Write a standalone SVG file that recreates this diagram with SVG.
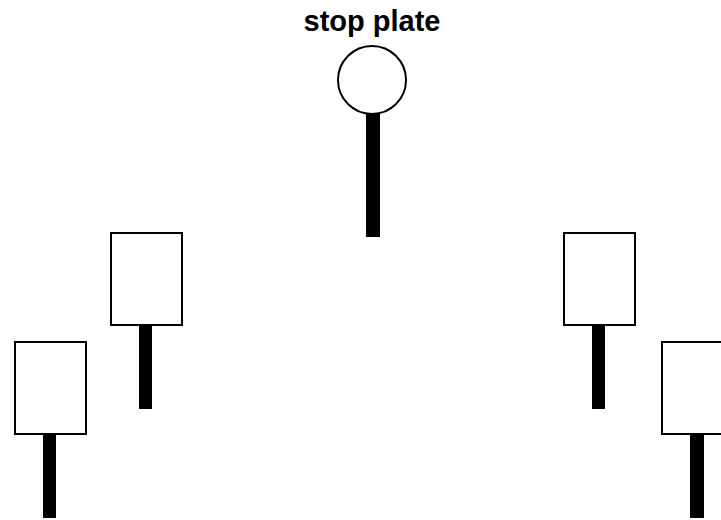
<svg xmlns="http://www.w3.org/2000/svg" width="721" height="520" viewBox="0 0 721 520">
<style>
.plate{fill:#fff;stroke:#000;stroke-width:2}
.stem{fill:#000}
.lbl{font-family:"Liberation Sans",Arial,sans-serif;font-weight:bold;font-size:29px;fill:#000;text-anchor:middle}
</style>
<rect width="721" height="520" fill="#fff"/>
<g id="stop-plate">
<text class="lbl" x="372" y="31">stop plate</text>
<rect class="stem" x="366" y="112" width="14" height="125"/>
<circle class="plate" cx="372" cy="80" r="34"/>
</g>
<g id="sign-left-inner">
<rect class="stem" x="139" y="325" width="13" height="84"/>
<rect class="plate" x="111" y="233" width="71" height="92"/>
</g>
<g id="sign-left-outer">
<rect class="stem" x="43" y="434" width="13" height="84"/>
<rect class="plate" x="15" y="342" width="71" height="92"/>
</g>
<g id="sign-right-inner">
<rect class="stem" x="592" y="325" width="13" height="84"/>
<rect class="plate" x="564" y="233" width="71" height="92"/>
</g>
<g id="sign-right-outer">
<rect class="stem" x="690" y="434" width="14" height="84"/>
<rect class="plate" x="662" y="342" width="72" height="92"/>
</g>
<g id="connectors"></g>
</svg>
